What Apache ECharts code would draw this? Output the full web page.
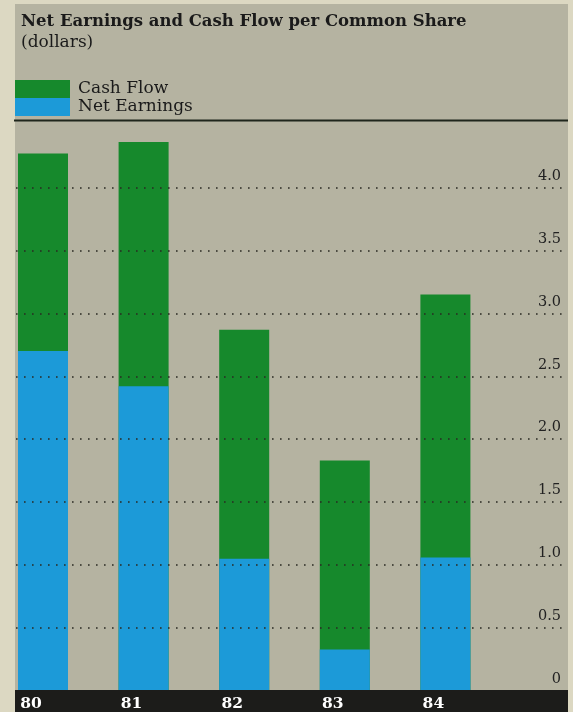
<!DOCTYPE html>
<html>
<head>
<meta charset="utf-8">
<script src="https://cdn.jsdelivr.net/npm/echarts@6/dist/echarts.min.js"></script>
<style>
html,body{margin:0;padding:0;background:#dcd8c2;}
#chart{width:573px;height:712px;}
</style>
</head>
<body>
<div id="chart"></div>
<script>
var years = ['80', '81', '82', '83', '84'];
var cashFlow = [4.27, 4.36, 2.87, 1.83, 3.15];
var netEarnings = [2.70, 2.42, 1.05, 0.33, 1.06];
var yTicks = [0, 0.5, 1.0, 1.5, 2.0, 2.5, 3.0, 3.5, 4.0];

var serif = '"DejaVu Serif", "Liberation Serif", serif';
var chart = echarts.init(document.getElementById('chart'), null, {renderer: 'canvas'});
chart.setOption({
  backgroundColor: '#dcd8c2',
  animation: false,
  graphic: [
    {type: 'rect', z: -10, shape: {x: 15, y: 4, width: 553, height: 688}, style: {fill: '#b5b3a1'}},
    {type: 'rect', z: 50, shape: {x: 15, y: 690, width: 553, height: 22}, style: {fill: '#1c1c1a'}},
    {type: 'line', z: 50, shape: {x1: 14, y1: 120.5, x2: 568, y2: 120.5}, style: {stroke: '#1f261c', lineWidth: 2}}
  ],
  title: {
    text: 'Net Earnings and Cash Flow per Common Share',
    subtext: '(dollars)',
    left: 16, top: 8,
    itemGap: 4,
    textStyle: {fontFamily: serif, fontWeight: 'bold', fontSize: 16.5, color: '#1a1a1a'},
    subtextStyle: {fontFamily: serif, fontSize: 17, color: '#1a1a1a'}
  },
  legend: {
    orient: 'vertical', left: 15, top: 80, padding: 0,
    itemWidth: 55, itemHeight: 18, itemGap: 0,
    icon: 'rect',
    data: ['Cash Flow', 'Net Earnings'],
    textStyle: {fontFamily: serif, fontSize: 17, lineHeight: 18, color: '#1a1a1a', padding: [0, 0, 0, 3]},
    selectedMode: false
  },
  grid: [
    {left: 43, right: 127.6, top: 124.5, bottom: 21},
    {left: 16, right: 5, top: 187.4, bottom: 21}
  ],
  xAxis: [
    {type: 'category', gridIndex: 0, data: years, boundaryGap: false,
     axisLine: {show: false}, axisTick: {show: false},
     axisLabel: {color: '#ffffff', fontFamily: serif, fontWeight: 'bold', fontSize: 15.5,
                 margin: 5, verticalAlign: 'top', padding: [0, 24, 0, 0]},
     z: 60},
    {type: 'value', gridIndex: 1, min: 0, max: 1, show: false}
  ],
  yAxis: [
    {type: 'value', gridIndex: 0, min: 0, max: 4.5, show: false},
    {type: 'value', gridIndex: 1, min: 0, max: 4.0, interval: 0.5, position: 'right', z: 5,
     axisLine: {show: false}, axisTick: {show: false},
     splitLine: {show: true, lineStyle: {color: '#2a2a22', width: 1.6, type: [1.6, 6.4]}},
     axisLabel: {inside: true, margin: 7, fontFamily: serif, fontSize: 14.5,
                 color: '#222', verticalAlign: 'bottom', padding: [0, 0, 4, 0],
                 formatter: function (v) { return v === 0 ? '0' : v.toFixed(1); }}}
  ],
  series: [
    {name: 'Cash Flow', type: 'bar', xAxisIndex: 0, yAxisIndex: 0, data: cashFlow,
     barWidth: 50, barGap: '-100%', itemStyle: {color: '#16892c'}, z: 2},
    {name: 'Net Earnings', type: 'bar', xAxisIndex: 0, yAxisIndex: 0, data: netEarnings,
     barWidth: 50, barGap: '-100%', itemStyle: {color: '#1c9ad8'}, z: 3}
  ]
});
</script>
</body>
</html>
